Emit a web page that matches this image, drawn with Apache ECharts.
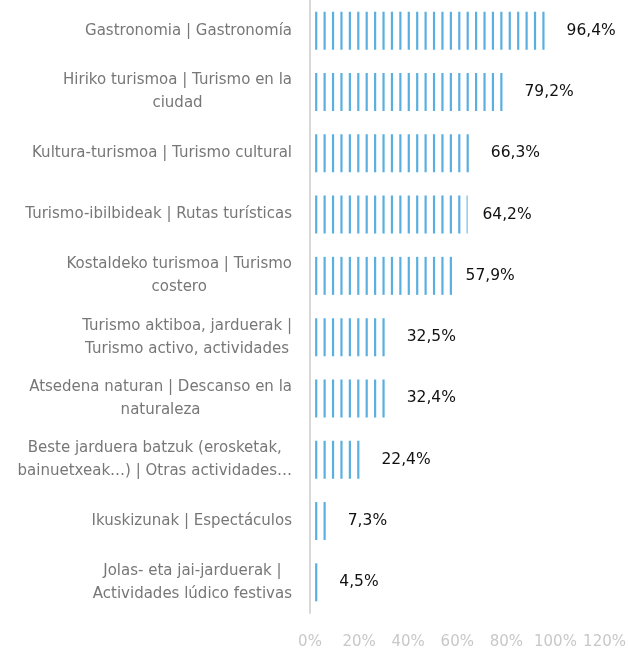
<!DOCTYPE html>
<html>
<head>
<meta charset="utf-8">
<script src="https://cdn.jsdelivr.net/npm/echarts@6/dist/echarts.min.js"></script>
<style>
  html, body { margin: 0; padding: 0; background: #fff; }
  #chart { width: 629px; height: 655px; }
</style>
</head>
<body>
<div id="chart"></div>
<script>
// categorias (ya partidas en lineas como en el original)
const categories = [
  'Gastronomia | Gastronomía',
  'Hiriko turismoa | Turismo en la\nciudad',
  'Kultura-turismoa | Turismo cultural',
  'Turismo-ibilbideak | Rutas turísticas',
  'Kostaldeko turismoa | Turismo\ncostero',
  'Turismo aktiboa, jarduerak |\nTurismo activo, actividades',
  'Atsedena naturan | Descanso en la\nnaturaleza',
  'Beste jarduera batzuk (erosketak,\nbainuetxeak…) | Otras actividades…',
  'Ikuskizunak | Espectáculos',
  'Jolas- eta jai-jarduerak |\nActividades lúdico festivas'
]
const values = [96.4, 79.2, 66.3, 64.2, 57.9, 32.5, 32.4, 22.4, 7.3, 4.5]
const axisTicks = [0, 20, 40, 60, 80, 100, 120]

const chart = echarts.init(document.getElementById('chart'))
const font = 'DejaVu Sans'

let option = {
  animation: false,
  grid: {
    left: 310,
    right: 22,
    top: 0,
    bottom: 42,
  },
  xAxis: {
    type: 'value',
    min: axisTicks[0],
    max: axisTicks[axisTicks.length - 1],
    interval: 20,
    axisLine: { show: false },
    axisTick: { show: false },
    splitLine: { show: false },
    axisLabel: {
      formatter: '{value}%',
      color: '#c8c8c8',
      fontFamily: font,
      fontSize: 15,
      margin: 22,
    },
  },
  yAxis: {
    type: 'category',
    data: categories,
    inverse: true,
    axisTick: { show: false },
    axisLine: { lineStyle: { color: '#d9d9d9', width: 2 } },
    axisLabel: {
      align: 'right',
      margin: 18,
      // cada linea centrada dentro del bloque alineado a la derecha
      formatter: (v) => v.split('\n').map((l) => '{c|' + l + '}').join('\n'),
      rich: {
        c: {
          align: 'center',
          color: '#777',
          fontFamily: font,
          fontSize: 15,
          lineHeight: 23,
        },
      },
    },
  },
  series: [
    {
      type: 'pictorialBar',
      data: values,
      symbol: 'rect',
      symbolSize: [2.2, 38],
      symbolRepeat: true,
      symbolMargin: '3.17!',
      symbolOffset: [2, 0],
      symbolClip: true,
      itemStyle: { color: '#5aafe0' },
      label: {
        show: true,
        position: 'right',
        distance: 10.5,
        color: '#111',
        fontFamily: font,
        fontSize: 15.5,
        formatter: (p) => String(p.value).replace('.', ',') + '%',
      },
    },
  ],
}
chart.setOption(option)
</script>
</body>
</html>
